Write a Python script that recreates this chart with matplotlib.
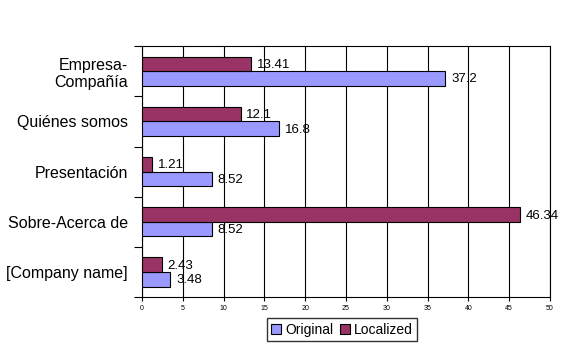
import numpy as np
import matplotlib.pyplot as plt

plt.rcParams['font.family'] = ['Liberation Sans', 'DejaVu Sans']

categories = ['Empresa-\nCompañía', 'Quiénes somos', 'Presentación',
              'Sobre-Acerca de', '[Company name]']
original = [37.2, 16.8, 8.52, 8.52, 3.48]
localized = [13.41, 12.1, 1.21, 46.34, 2.43]
original_labels = ['37.2', '16.8', '8.52', '8.52', '3.48']
localized_labels = ['13.41', '12.1', '1.21', '46.34', '2.43']

fig = plt.figure(figsize=(5.71, 3.52), dpi=100)
ax = fig.add_axes([0.2487, 0.156, 0.7143, 0.713])

y = np.arange(len(categories))
h = 0.29
bo = ax.barh(y + h / 2, original, height=h, color='#9999FF',
             edgecolor='black', linewidth=0.8, label='Original', zorder=3)
bl = ax.barh(y - h / 2, localized, height=h, color='#993366',
             edgecolor='black', linewidth=0.8, label='Localized', zorder=3)

for bar, txt in zip(bo, original_labels):
    ax.text(bar.get_width() + 0.7, bar.get_y() + bar.get_height() / 2 + 0.02, txt,
            va='center', ha='left', fontsize=9.5, zorder=4)
for bar, txt in zip(bl, localized_labels):
    ax.text(bar.get_width() + 0.7, bar.get_y() + bar.get_height() / 2 + 0.02, txt,
            va='center', ha='left', fontsize=9.5, zorder=4)

ax.set_xlim(0, 50)
ax.set_xticks(np.arange(0, 51, 5))
ax.tick_params(axis='x', labelsize=5, length=3, width=0.8, pad=3)
ax.grid(axis='x', color='black', linewidth=0.8, zorder=0)

ax.set_ylim(len(categories) - 0.5, -0.5)
ax.set_yticks(y)
ax.set_yticklabels(categories, fontsize=11.5, ha='right', multialignment='right')
ax.set_yticks(np.arange(-0.5, len(categories)), minor=True)
ax.tick_params(axis='y', which='major', length=0, pad=10)
ax.tick_params(axis='y', which='minor', length=6, width=0.8)

for s in ax.spines.values():
    s.set_color('black')
    s.set_linewidth(0.8)

ax.legend(loc='upper center', bbox_to_anchor=(0.49, -0.085), ncol=2,
          fontsize=10, frameon=True, fancybox=False, edgecolor='black',
          handlelength=0.7, handleheight=0.7, handletextpad=0.3,
          columnspacing=0.5, borderpad=0.3, borderaxespad=0)

fig.savefig('out.png', dpi=100)
